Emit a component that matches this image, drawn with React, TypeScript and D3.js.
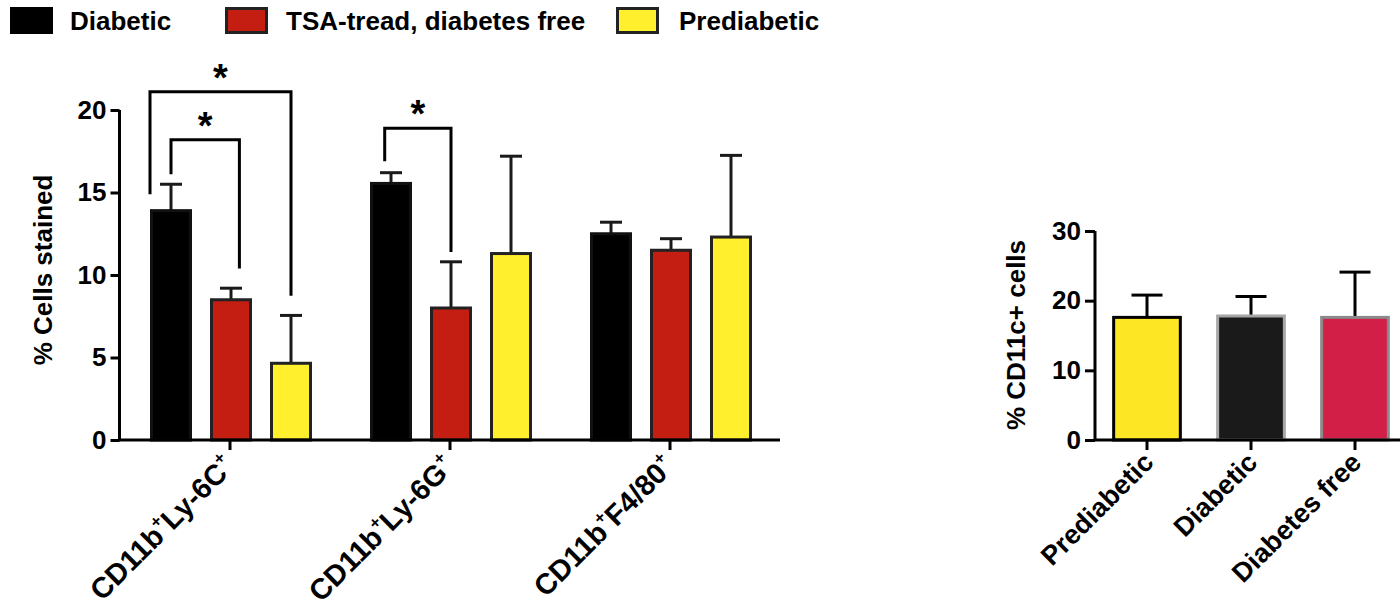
import React, { useEffect, useRef } from 'react';
import * as d3 from 'd3';

// left panel
const groups = ['CD11b+Ly-6C+', 'CD11b+Ly-6G+', 'CD11b+F4/80+'];
const series = ['Diabetic', 'TSA-tread, diabetes free', 'Prediabetic'];
const diabeticMean = [13.9, 15.55, 12.5];
const diabeticErr = [1.6, 0.65, 0.7];
const tsaMean = [8.5, 8.0, 11.5];
const tsaErr = [0.7, 2.8, 0.7];
const prediabeticMean = [4.65, 11.3, 12.3];
const prediabeticErr = [2.9, 5.9, 4.95];
const leftTicks = [0, 5, 10, 15, 20];

// significance brackets (shift is in bar widths from the bar centre)
const brackets = [
  { group: 0, from: 0, fromShift: 0, to: 1, toShift: 0.2, top: 18.2, fromEnd: 16.1, toEnd: 10.4 },
  { group: 0, from: 0, fromShift: -0.5, to: 2, toShift: 0, top: 21.1, fromEnd: 14.9, toEnd: 8.75 },
  { group: 1, from: 0, fromShift: -0.15, to: 1, toShift: 0, top: 18.9, fromEnd: 16.9, toEnd: 11.4 },
];

// right panel
const cdCategories = ['Prediabetic', 'Diabetic', 'Diabetes free'];
const cdMean = [17.6, 17.8, 17.6];
const cdErr = [3.2, 2.8, 6.5];
const rightTicks = [0, 10, 20, 30];

const FONT = '"Liberation Sans", Arial, Helvetica, sans-serif';
const leftFill = ['#000000', '#c41d11', '#ffef2c'];
const leftStroke = ['#111111', '#222222', '#222222'];
const rightFill = ['#fde623', '#1a1a1a', '#d11f47'];
const rightStroke = ['#000000', '#a6a6a6', '#8a8a8a'];

function addLabel(sel, name) {
  const parts = name.split('+');
  const lift = 13;
  parts.forEach((p, i) => {
    if (p) sel.append('tspan').attr('dy', i > 0 ? lift : 0).text(p);
    if (i < parts.length - 1) {
      sel.append('tspan').attr('font-size', 17).attr('dy', -lift).text('+');
    }
  });
}

function draw(svgEl) {
  const svg = d3.select(svgEl);
  svg.selectAll('*').remove();
  svg.attr('font-family', FONT).attr('font-weight', 'bold');

  // legend
  const legendX = [10, 225, 616];
  const legendTextX = [70, 286, 679];
  const legend = svg.append('g');
  series.forEach((s, i) => {
    legend
      .append('rect')
      .attr('x', legendX[i] + 1.5)
      .attr('y', 8.5)
      .attr('width', 40)
      .attr('height', 24)
      .attr('fill', leftFill[i])
      .attr('stroke', i === 0 ? '#000' : '#222')
      .attr('stroke-width', 3);
    legend
      .append('text')
      .attr('x', legendTextX[i])
      .attr('y', 30)
      .attr('font-size', 26)
      .text(s);
  });

  // ---- left chart
  const y = d3.scaleLinear().domain([0, 20]).range([440, 110]);
  const x0 = d3.scaleBand().domain(groups).range([120, 780]);
  const x1 = d3
    .scaleBand()
    .domain(d3.range(series.length))
    .range([21, 201])
    .paddingInner(0.3)
    .paddingOuter(0.15);
  const means = [diabeticMean, tsaMean, prediabeticMean];
  const errs = [diabeticErr, tsaErr, prediabeticErr];
  const bw = x1.bandwidth();
  const barCx = (g, s, shift = 0) => x0(groups[g]) + x1(s) + bw / 2 + shift * bw;

  const left = svg.append('g');
  groups.forEach((g, gi) => {
    series.forEach((s, si) => {
      const cx = barCx(gi, si);
      const v = means[si][gi];
      const top = v + errs[si][gi];
      left
        .append('line')
        .attr('x1', cx)
        .attr('x2', cx)
        .attr('y1', y(v))
        .attr('y2', y(top))
        .attr('stroke', '#1a1a1a')
        .attr('stroke-width', 3);
      left
        .append('line')
        .attr('x1', cx - 11)
        .attr('x2', cx + 11)
        .attr('y1', y(top))
        .attr('y2', y(top))
        .attr('stroke', '#1a1a1a')
        .attr('stroke-width', 3);
      left
        .append('rect')
        .attr('x', x0(g) + x1(si) + 1.5)
        .attr('y', y(v))
        .attr('width', bw - 3)
        .attr('height', y(0) - y(v))
        .attr('fill', leftFill[si])
        .attr('stroke', leftStroke[si])
        .attr('stroke-width', 3);
    });
  });

  // brackets
  brackets.forEach((b) => {
    const xa = barCx(b.group, b.from, b.fromShift);
    const xb = barCx(b.group, b.to, b.toShift);
    left
      .append('path')
      .attr('d', `M${xa},${y(b.fromEnd)}V${y(b.top)}H${xb}V${y(b.toEnd)}`)
      .attr('fill', 'none')
      .attr('stroke', '#000')
      .attr('stroke-width', 3);
    left
      .append('text')
      .attr('x', (xa + xb) / 2)
      .attr('y', y(b.top) - 1)
      .attr('text-anchor', 'middle')
      .attr('font-size', 38)
      .text('*');
  });

  // axes
  const yAxis = svg
    .append('g')
    .attr('transform', 'translate(119.5,0)')
    .call(d3.axisLeft(y).tickValues(leftTicks).tickSize(9).tickSizeOuter(0).tickPadding(4));
  yAxis.select('.domain').attr('stroke-width', 3).attr('d', `M0,${y(0)}V${y(20)}`);
  yAxis.selectAll('.tick line').attr('stroke-width', 3);
  yAxis.selectAll('.tick text').attr('font-size', 26).attr('font-family', FONT).attr('fill', '#000');

  svg
    .append('line')
    .attr('x1', 118)
    .attr('x2', 780)
    .attr('y1', y(0))
    .attr('y2', y(0))
    .attr('stroke', '#000')
    .attr('stroke-width', 3);
  groups.forEach((g) => {
    const cx = x0(g) + x0.bandwidth() / 2;
    svg
      .append('line')
      .attr('x1', cx)
      .attr('x2', cx)
      .attr('y1', y(0))
      .attr('y2', y(0) + 10)
      .attr('stroke', '#000')
      .attr('stroke-width', 3);
    const t = svg
      .append('text')
      .attr('text-anchor', 'end')
      .attr('font-size', 29)
      .attr('transform', `translate(${cx + 6},${y(0) + 28}) rotate(-45)`);
    addLabel(t, g);
  });

  svg
    .append('text')
    .attr('transform', `translate(52,270) rotate(-90)`)
    .attr('text-anchor', 'middle')
    .attr('font-size', 26)
    .text('% Cells stained');

  // ---- right chart
  const yr = d3.scaleLinear().domain([0, 30]).range([440, 231]);
  const xr = d3
    .scaleBand()
    .domain(cdCategories)
    .range([1095, 1407])
    .paddingInner(0.33)
    .paddingOuter(0.165);
  const right = svg.append('g');
  cdCategories.forEach((c, i) => {
    const cx = xr(c) + xr.bandwidth() / 2;
    const v = cdMean[i];
    const top = v + cdErr[i];
    right
      .append('line')
      .attr('x1', cx)
      .attr('x2', cx)
      .attr('y1', yr(v))
      .attr('y2', yr(top))
      .attr('stroke', '#000')
      .attr('stroke-width', 3);
    right
      .append('line')
      .attr('x1', cx - 15.5)
      .attr('x2', cx + 15.5)
      .attr('y1', yr(top))
      .attr('y2', yr(top))
      .attr('stroke', '#000')
      .attr('stroke-width', 3);
    right
      .append('rect')
      .attr('x', xr(c) + 1.5)
      .attr('y', yr(v))
      .attr('width', xr.bandwidth() - 3)
      .attr('height', yr(0) - yr(v))
      .attr('fill', rightFill[i])
      .attr('stroke', rightStroke[i])
      .attr('stroke-width', 3);
    right
      .append('line')
      .attr('x1', cx)
      .attr('x2', cx)
      .attr('y1', yr(0))
      .attr('y2', yr(0) + 10)
      .attr('stroke', '#000')
      .attr('stroke-width', 3);
    right
      .append('text')
      .attr('text-anchor', 'end')
      .attr('font-size', 27)
      .attr('transform', `translate(${cx + 8},${yr(0) + 24}) rotate(-45)`)
      .text(c);
  });

  const yrAxis = svg
    .append('g')
    .attr('transform', 'translate(1095,0)')
    .call(d3.axisLeft(yr).tickValues(rightTicks).tickSize(10).tickSizeOuter(0).tickPadding(4));
  yrAxis.select('.domain').attr('stroke-width', 3).attr('d', `M0,${yr(0)}V${yr(30)}`);
  yrAxis.selectAll('.tick line').attr('stroke-width', 3);
  yrAxis.selectAll('.tick text').attr('font-size', 26).attr('font-family', FONT).attr('fill', '#000');

  svg
    .append('line')
    .attr('x1', 1094)
    .attr('x2', 1400)
    .attr('y1', yr(0))
    .attr('y2', yr(0))
    .attr('stroke', '#000')
    .attr('stroke-width', 3);

  svg
    .append('text')
    .attr('transform', `translate(1025,335) rotate(-90)`)
    .attr('text-anchor', 'middle')
    .attr('font-size', 26)
    .text('% CD11c+ cells');
}

export default function App() {
  const ref = useRef(null);
  useEffect(() => {
    if (ref.current) draw(ref.current);
  }, []);
  return (
    <svg
      ref={ref}
      width={1400}
      height={606}
      style={{ position: 'absolute', left: 0, top: 0, background: '#fff' }}
    />
  );
}
